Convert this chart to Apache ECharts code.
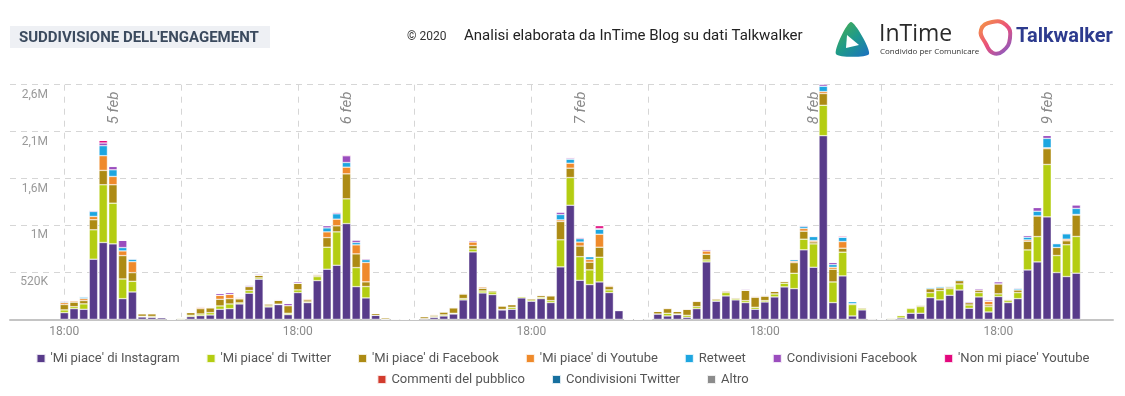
<!DOCTYPE html>
<html><head><meta charset="utf-8">
<script src="https://cdn.jsdelivr.net/npm/echarts@6/dist/echarts.min.js"></script>
<style>html,body{margin:0;padding:0;background:#fff}#c{width:1125px;height:396px}</style>
</head><body><div id="c"></div><script>
// Hours counted from 4 feb 00:00 (one bar per hour)
const hours = [
  18,19,20,21,22,23,24,25,
  26,27,28,29,30,31,32,33,
  34,35,36,37,38,39,40,41,
  42,43,44,45,46,47,48,49,
  50,51,52,53,54,55,56,57,
  58,59,60,61,62,63,64,65,
  66,67,68,69,70,71,72,73,
  74,75,76,77,78,79,80,81,
  82,83,84,85,86,87,88,89,
  90,91,92,93,94,95,96,97,
  98,99,100,101,102,103,104,105,
  106,107,108,109,110,111,112,113,
  114,115,116,117,118,119,120,121,122];

// values in thousands (K)
const instagram = [
  74,118,111,666,851,836,229,303,
  26,22,18,0,0,30,41,48,
  111,118,170,289,444,137,163,52,
  296,185,429,555,599,1061,362,237,
  44,0,0,0,0,8,22,37,
  59,215,747,292,274,104,111,237,
  200,229,185,581,1264,432,385,414,
  296,96,0,0,0,59,37,52,
  22,118,636,200,259,215,185,111,
  192,248,359,340,770,577,2035,185,
  481,37,104,0,0,0,15,67,
  67,240,215,266,325,122,248,81,
  252,185,229,547,636,1135,518,474,511];
const twitter = [
  30,22,60,326,640,451,218,118,
  8,10,0,0,10,15,18,26,
  37,52,12,30,15,12,5,15,
  30,8,44,244,370,274,211,126,
  0,4,0,0,0,0,8,12,
  8,15,33,22,30,5,22,15,
  15,15,22,300,307,262,163,274,
  30,5,0,0,3,0,30,7,
  22,22,22,15,37,15,22,22,
  15,33,41,170,118,259,337,229,
  263,126,15,5,0,10,25,52,
  74,55,104,74,67,37,48,59,
  30,22,67,222,281,581,189,352,407];
const facebook = [
  60,50,37,111,159,204,259,96,
  26,28,8,0,8,30,59,52,
  74,59,44,44,30,22,44,85,
  74,22,15,107,67,277,152,52,
  22,18,3,0,0,20,15,30,
  59,52,37,30,18,37,30,7,
  18,22,52,203,104,118,85,111,
  37,6,0,0,8,33,52,33,
  67,59,63,15,18,11,115,111,
  52,30,22,118,89,22,130,141,
  44,10,14,10,3,8,8,10,
  15,44,30,18,37,26,30,20,
  111,15,30,96,229,174,89,44,237];
const youtube = [
  22,15,22,37,163,92,52,122,
  6,10,0,0,0,3,15,8,
  44,48,10,0,0,0,0,0,
  0,12,11,63,74,74,100,215,
  0,0,0,0,0,5,14,10,
  8,0,41,18,0,9,0,0,
  0,0,8,18,55,44,30,144,
  18,0,0,0,0,0,10,0,
  7,8,37,0,0,0,0,12,
  0,0,0,15,30,15,22,22,
  74,0,0,0,0,0,0,0,
  0,0,0,0,0,0,0,40,
  0,0,0,15,0,11,0,18,7];
const retweet = [
  8,0,15,55,111,74,37,26,
  0,0,0,0,0,0,0,0,
  0,0,0,0,0,0,0,0,
  0,0,0,44,59,52,26,30,
  0,0,0,0,0,0,0,0,
  0,0,0,0,0,0,0,0,
  0,0,0,59,44,37,30,55,
  0,0,0,0,0,0,0,0,
  0,0,0,0,0,0,0,0,
  0,0,0,18,22,44,59,30,
  48,22,0,0,0,0,4,4,
  10,15,18,10,12,0,0,0,
  0,0,15,30,52,104,41,59,67];
const condFacebook = [
  12,8,11,15,30,37,81,10,
  0,0,0,0,0,3,12,7,
  22,22,12,18,15,6,10,25,
  18,4,8,26,15,74,30,15,
  0,0,0,0,0,0,0,0,
  6,10,18,0,0,0,7,0,
  4,8,7,30,12,18,5,8,
  0,0,0,0,0,0,0,0,
  0,0,18,7,8,7,15,7,
  11,7,7,8,15,8,22,26,
  0,5,0,0,0,0,0,0,
  0,5,3,5,3,15,18,15,
  22,7,10,22,41,33,10,11,41];
const nonMiPiace = [
  0,0,0,0,30,5,0,0,
  0,0,0,0,0,0,0,0,
  0,0,0,0,0,0,0,0,
  0,0,0,0,7,11,0,0,
  0,0,0,0,0,0,0,0,
  0,0,0,0,0,0,0,0,
  0,0,0,0,10,0,0,33,
  0,0,0,0,0,0,0,0,
  0,0,0,0,0,0,0,0,
  0,0,0,0,0,0,0,0,
  15,0,0,0,0,0,0,0,
  0,0,0,0,0,0,0,0,
  7,0,0,0,0,0,0,0,0];
const commenti = [
  0,0,0,0,0,0,0,0,
  0,0,0,0,0,0,0,0,
  0,0,0,0,0,0,0,0,
  0,0,0,0,0,0,0,0,
  0,0,0,0,0,0,0,0,
  0,0,0,0,0,0,0,0,
  0,0,0,0,0,0,0,0,
  0,0,0,0,0,0,0,0,
  0,0,0,0,0,0,0,0,
  0,0,0,0,0,0,0,0,
  0,0,0,0,0,0,0,0,
  0,0,0,0,0,0,0,7,
  0,0,0,0,0,0,0,0,0];
const condTwitter = [
  0,0,0,0,0,0,0,0,
  0,0,0,0,0,0,0,0,
  0,0,0,0,0,0,0,0,
  0,0,0,0,0,0,0,0,
  0,0,0,0,0,0,0,0,
  0,0,0,0,0,0,0,0,
  0,0,0,0,0,0,0,0,
  0,0,0,0,0,0,0,0,
  0,0,0,0,0,0,0,0,
  0,0,0,0,0,0,0,0,
  0,0,0,0,0,0,0,0,
  0,0,0,0,0,0,0,0,
  0,0,0,0,0,0,0,0,0];
const altro = [
  0,0,0,0,0,0,0,0,
  0,0,0,0,0,0,0,0,
  0,0,0,0,0,0,0,0,
  0,0,0,0,0,0,0,0,
  0,0,4,0,0,0,0,0,
  0,0,0,0,0,0,0,0,
  0,0,0,0,0,0,0,0,
  0,0,0,5,0,0,0,0,
  0,0,0,0,0,0,0,0,
  0,0,0,0,0,0,0,0,
  0,0,0,0,4,0,0,0,
  0,0,0,0,0,0,0,0,
  0,0,0,0,0,0,0,0,0];

const seriesNames = ["'Mi piace' di Instagram","'Mi piace' di Twitter","'Mi piace' di Facebook","'Mi piace' di Youtube","Retweet","Condivisioni Facebook","'Non mi piace' Youtube","Commenti del pubblico","Condivisioni Twitter","Altro"];
const seriesValues = [instagram,twitter,facebook,youtube,retweet,condFacebook,nonMiPiace,commenti,condTwitter,altro];
const seriesColors = ['#583b8a','#b4cd12','#ad8b14','#ef8a2b','#1ea6e0','#9b4dbe','#e3087d','#d23b2d','#17709f','#8c8c8c'];

// axis ticks / labels
const yTickLabels = ['', '520K', '1M', '1,6M', '2,1M', '2,6M'];
const gridHours = [18,30,42,54,66,78,90,102,114];
const labelHours = [18,42,66,90,114];
const xTickLabel = '18:00';
const dayHours = [24,48,72,96,120];
const dayLabels = ['5 feb','6 feb','7 feb','8 feb','9 feb'];

const X_MIN = 12.42, X_MAX = 125.78;
const FONT = 'Roboto, sans-serif';

const chart = echarts.init(document.getElementById('c'), null, {renderer:'canvas'});

// value first, hour second -> the value dimension is the stacked one
const series = seriesValues.map((vals, k) => ({
  name: seriesNames[k], type: 'bar', stack: 'eng', barWidth: 8.4,
  encode: { x: 1, y: 0 },
  data: hours.map((h, i) => [vals[i], h]),
  itemStyle: { color: seriesColors[k], borderColor: 'rgba(255,255,255,0.85)', borderWidth: 0.5 },
  emphasis: { disabled: true }
}));
series[0].markLine = {
  silent: true, symbol: 'none', animation: false,
  lineStyle: { color: 'rgba(0,0,0,0)', width: 0 },
  label: { show: true, position: 'insideEndTop', formatter: '{b}', color: '#8a8a8a',
           fontStyle: 'italic', fontSize: 15, fontFamily: FONT, distance: [7, 1] },
  data: dayHours.map((h, i) => ({ xAxis: h, name: dayLabels[i] }))
};

const legendText = { color: '#555', fontSize: 13, fontFamily: FONT };
chart.setOption({
  animation: false,
  textStyle: { fontFamily: FONT },
  grid: { left: 10, right: 12, top: 84.7, bottom: 76.7, containLabel: false },
  legend: [
    { data: seriesNames.slice(0, 7), left: 'center', top: 347, icon: 'rect', itemWidth: 9, itemHeight: 9,
      itemGap: 26, textStyle: legendText, selectedMode: false },
    { data: seriesNames.slice(7), left: 'center', top: 368, icon: 'rect', itemWidth: 9, itemHeight: 9,
      itemGap: 26, textStyle: legendText, selectedMode: false }
  ],
  xAxis: {
    type: 'value', min: X_MIN, max: X_MAX,
    axisLine: { show: true, lineStyle: { color: '#c4c4c4', width: 2 } },
    axisTick: { show: false, customValues: gridHours },
    axisLabel: { customValues: labelHours, formatter: () => xTickLabel, color: '#8a8a8a', fontSize: 12, margin: 7 },
    splitLine: { show: true, lineStyle: { color: '#d6d6d6', type: [6, 6], width: 1 } }
  },
  yAxis: {
    type: 'value', min: 0, max: 2600, interval: 520,
    axisLine: { show: false }, axisTick: { show: false },
    splitLine: { show: true, lineStyle: { color: '#d6d6d6', type: [6, 5], width: 1 } },
    axisLabel: { formatter: v => yTickLabels[Math.round(v / 520)], color: '#999', fontSize: 12,
                 align: 'right', verticalAlign: 'top', margin: -38, padding: [4, 0, 0, 0] }
  },
  graphic: [
    { type: 'rect', shape: { x: 10, y: 26, width: 260, height: 22 }, style: { fill: '#eef0f4' } },
    { type: 'text', style: { text: "SUDDIVISIONE DELL'ENGAGEMENT", x: 19, y: 38, fill: '#3b4a5e',
      font: 'bold 15px Roboto, sans-serif', textVerticalAlign: 'middle', verticalAlign: 'middle' } },
    { type: 'text', style: { text: '© 2020', x: 407, y: 37, fill: '#333', font: '12px Roboto, sans-serif',
      textVerticalAlign: 'middle', verticalAlign: 'middle' } },
    { type: 'text', style: { text: 'Analisi elaborata da InTime Blog su dati Talkwalker', x: 464, y: 36, fill: '#222',
      font: '15px Roboto, sans-serif', textVerticalAlign: 'middle', verticalAlign: 'middle' } },
    { type: 'polygon', shape: { points: [[851, 22], [869, 54], [836, 54]], smooth: 0.25 },
      style: { fill: new echarts.graphic.LinearGradient(0, 0, 1, 1, [{offset: 0, color: '#4fb04a'}, {offset: 0.5, color: '#1f9a8a'}, {offset: 1, color: '#1b6fc2'}]) } },
    { type: 'polygon', shape: { points: [[847, 35], [859, 45], [846, 48]] }, style: { fill: '#fff' } },
    { type: 'text', style: { text: 'InTime', x: 879, y: 34, fill: '#2a2a2a', font: '23px "Open Sans", sans-serif',
      textVerticalAlign: 'middle', verticalAlign: 'middle' } },
    { type: 'text', style: { text: 'Condivido per Comunicare', x: 880, y: 52, fill: '#333', font: '8px "Open Sans", sans-serif',
      textVerticalAlign: 'middle', verticalAlign: 'middle' } },
    { type: 'polygon', shape: { points: [[981, 30], [992, 22], [1006, 25], [1010, 38], [1003, 51], [993, 53], [986, 44]], smooth: 0.5 },
      style: { fill: 'none', lineWidth: 4, stroke: new echarts.graphic.LinearGradient(0, 0, 1, 1, [{offset: 0, color: '#f7a23c'}, {offset: 0.5, color: '#ea4f7a'}, {offset: 1, color: '#6c5fd8'}]) } },
    { type: 'text', style: { text: 'Talkwalker', x: 1016, y: 37, fill: '#2d3b8e', font: 'bold 20px Roboto, sans-serif',
      textVerticalAlign: 'middle', verticalAlign: 'middle' } }
  ],
  series: series
});
</script></body></html>
